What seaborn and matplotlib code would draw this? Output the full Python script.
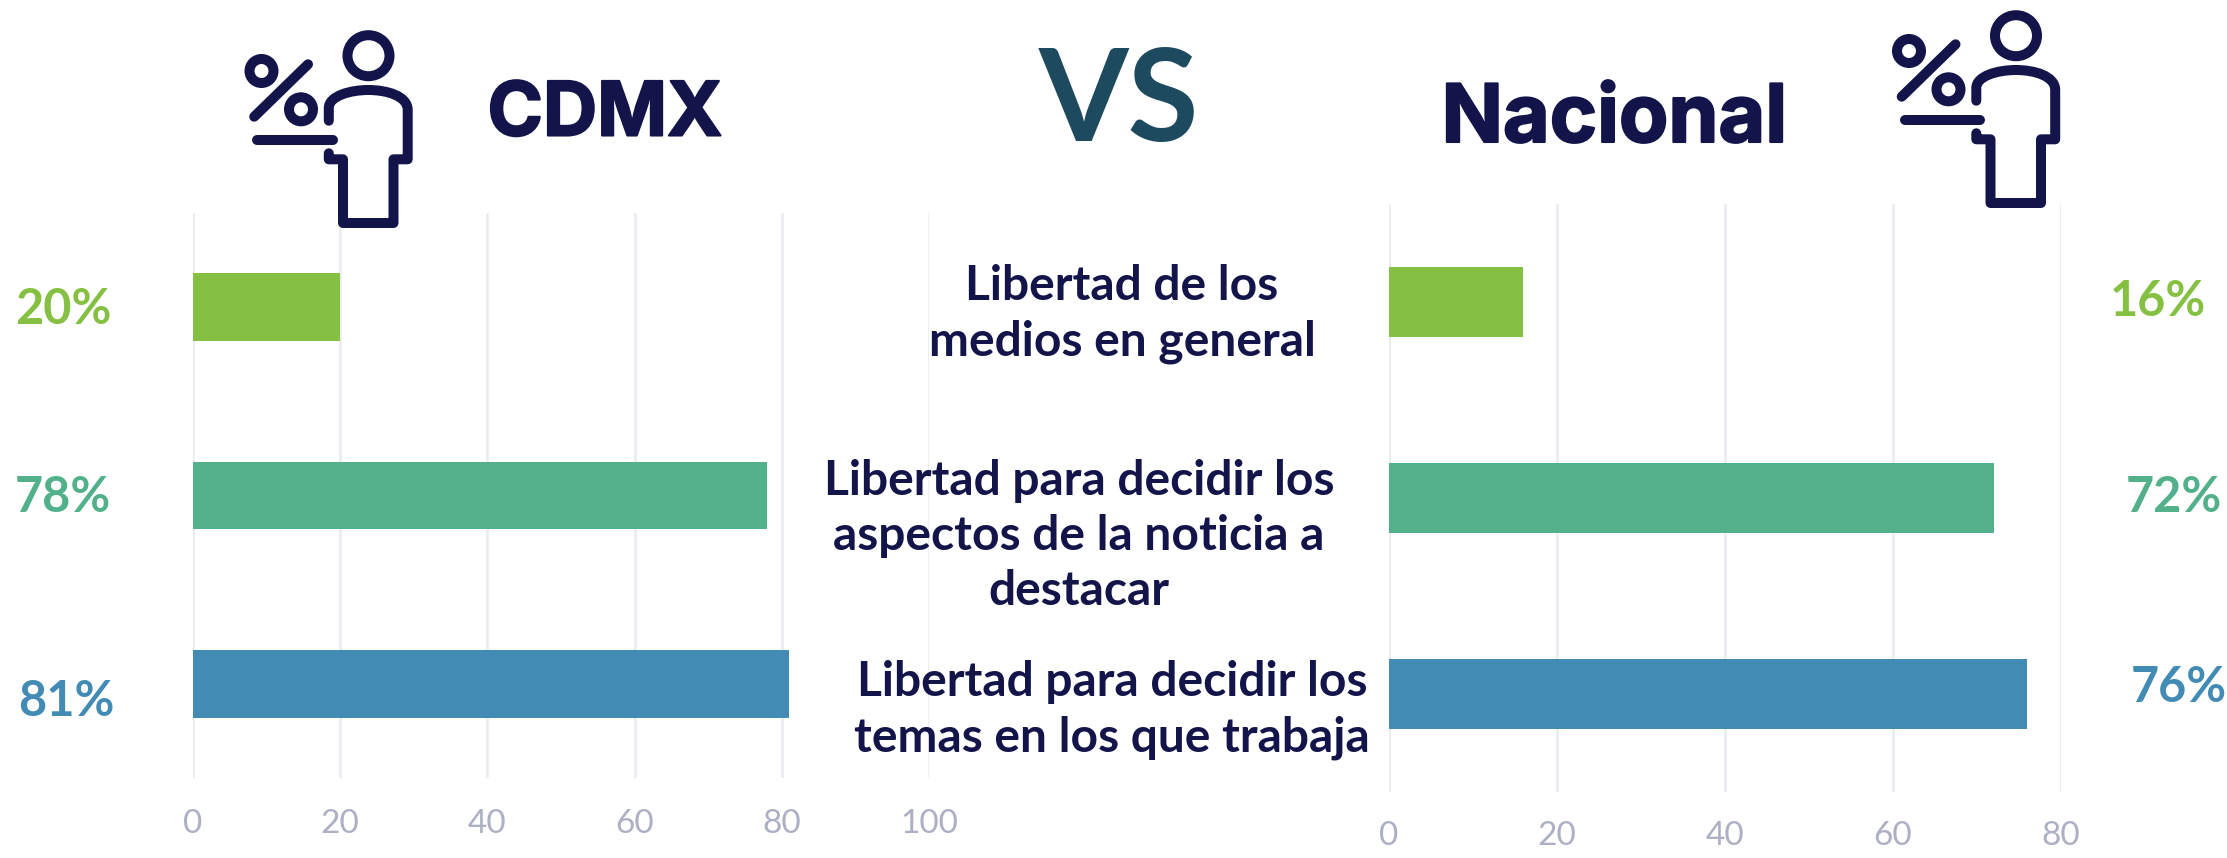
import matplotlib
matplotlib.use("Agg")
import matplotlib.pyplot as plt
import matplotlib.patheffects as pe
from matplotlib.path import Path
from matplotlib.patches import PathPatch, Ellipse
import pandas as pd
import seaborn as sns

W, H = 2227, 858
categories = ["Libertad de los medios en general",
              "Libertad para decidir los aspectos de la noticia a destacar",
              "Libertad para decidir los temas en los que trabaja"]
center_labels = ["Libertad de los\nmedios en general",
                 "Libertad para decidir los\naspectos de la noticia a\ndestacar",
                 "Libertad para decidir los\ntemas en los que trabaja"]
cdmx_values = [20, 78, 81]
nacional_values = [16, 72, 76]
colors = ["#86C042", "#52B08A", "#428BB4"]
left_ticks = [0, 20, 40, 60, 80, 100]
right_ticks = [0, 20, 40, 60, 80]
NAVY = "#13154A"
GRID = "#EBECF0"
TICK = "#ADAFC4"

sns.set_theme(style="white")
plt.rcParams["font.family"] = ["Lato", "DejaVu Sans"]
fig = plt.figure(figsize=(W / 100, H / 100), dpi=100, facecolor="white")


def make_axes(x0, x1, y0, y1):
    return fig.add_axes([x0 / W, 1 - y1 / H, (x1 - x0) / W, (y1 - y0) / H])


def draw_panel(ax, values, ticks, xmax, width, tick_pad):
    df = pd.DataFrame({"cat": categories, "val": values})
    sns.barplot(data=df, y="cat", x="val", hue="cat", palette=colors, orient="h",
                width=width, saturation=1, legend=False, ax=ax, zorder=3, linewidth=0)
    ax.set_xlim(0, xmax)
    ax.set_ylim(2.5, -0.5)
    ax.set_xticks(ticks)
    ax.set_yticks([])
    ax.set_xlabel("")
    ax.set_ylabel("")
    ax.grid(axis="x", color=GRID, lw=2)
    ax.set_axisbelow(True)
    ax.patch.set_alpha(0)
    for s in ax.spines.values():
        s.set_visible(False)
    ax.tick_params(axis="x", length=0, pad=tick_pad, labelsize=24, labelcolor=TICK)


left = make_axes(193, 929, 213, 778)
draw_panel(left, cdmx_values, left_ticks, 100, 0.36, 22)
right = make_axes(1389, 2061, 204, 792)
draw_panel(right, nacional_values, right_ticks, 80, 0.36, 21)

# Overlay in image pixels for decoration and free text
ov = fig.add_axes([0, 0, 1, 1], zorder=5)
ov.set_xlim(0, W)
ov.set_ylim(H, 0)
ov.axis("off")


def icon(dx, dy):
    lw = 10 * 72 / 100
    st = dict(fill=False, ec=NAVY, lw=lw, capstyle="round", joinstyle="round")
    ov.add_patch(Ellipse((368.5 + dx, 55.7 + dy), 42, 41, **st))
    ov.add_patch(Ellipse((261.5 + dx, 71 + dy), 24, 24, **st))
    ov.add_patch(Ellipse((301 + dx, 109.3 + dy), 24, 24, **st))
    for a, b in [((254.2, 116.7), (308, 64.3)), ((257, 140.3), (332.7, 140.3))]:
        ov.plot([a[0] + dx, b[0] + dx], [a[1] + dy, b[1] + dy], color=NAVY,
                lw=lw, solid_capstyle="round")
    M, L, C = Path.MOVETO, Path.LINETO, Path.CURVE4
    pts = [((328.8, 120.7), M), ((328.8, 108), L),
           ((328.8, 96), C), ((350, 90), C), ((368.5, 90), C),
           ((387, 90), C), ((407.7, 96), C), ((407.7, 110), C),
           ((407.7, 159.3), L), ((393.5, 159.3), L), ((393.5, 223), L),
           ((343, 223), L), ((343, 159.3), L), ((328.8, 159.3), L), ((328.8, 153.3), L)]
    ov.add_patch(PathPatch(Path([(p[0] + dx, p[1] + dy) for p, _ in pts],
                                [c for _, c in pts]), **st))


icon(0, 0)
icon(1647.5, -20)

HEAD = ["Inter", "DejaVu Sans"]
heavy = [pe.withStroke(linewidth=1.5, foreground=NAVY)]
ov.text(605, 116, "CDMX", family=HEAD, weight="bold", fontsize=54, color=NAVY,
        ha="center", va="center", path_effects=heavy)
ov.text(1614, 121, "Nacional", family=HEAD, weight="bold", fontsize=58, color=NAVY,
        ha="center", va="center", path_effects=heavy)
ov.text(1119, 105, "VS", family=["Lato"], weight="bold", fontsize=93, color="#1E4A60",
        ha="center", va="center")

# Centre labels
for x, y, s in zip([1122, 1079, 1112], [314, 536, 710], center_labels):
    ov.text(x, y, s, fontsize=34.6, weight="bold", color=NAVY, ha="center",
            va="center", linespacing=1.31)

# Value labels
lx = [63, 63, 66]
ly = [310, 498, 702]
rx = [2158, 2174, 2179]
ry = [301, 498, 688]
for i in range(3):
    ov.text(lx[i], ly[i], f"{cdmx_values[i]}%", fontsize=35, weight="bold", color=colors[i],
            ha="center", va="center")
    ov.text(rx[i], ry[i], f"{nacional_values[i]}%", fontsize=35, weight="bold", color=colors[i],
            ha="center", va="center")

fig.savefig("out.png", dpi=100, facecolor="white")
